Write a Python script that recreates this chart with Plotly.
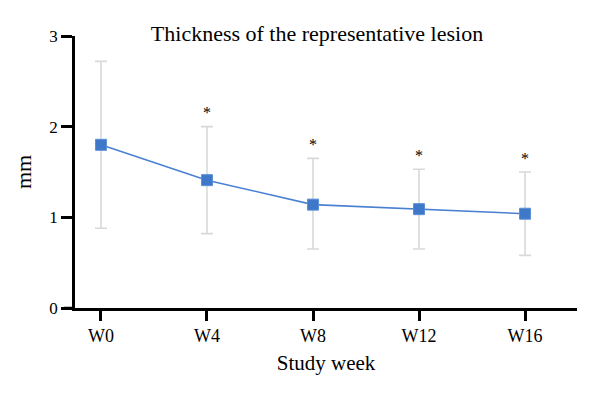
import plotly.graph_objects as go

weeks = ["W0", "W4", "W8", "W12", "W16"]
mean_mm = [1.80, 1.41, 1.14, 1.09, 1.04]
upper_mm = [2.72, 2.00, 1.65, 1.53, 1.50]
lower_mm = [0.88, 0.82, 0.65, 0.65, 0.58]
significance = ["", "*", "*", "*", "*"]

xpos = list(range(len(weeks)))
err_plus = [u - m for u, m in zip(upper_mm, mean_mm)]
err_minus = [m - l for m, l in zip(mean_mm, lower_mm)]

FONT = "Liberation Serif"

fig = go.Figure()
fig.add_trace(go.Scatter(
    x=xpos, y=mean_mm, mode="lines+markers",
    line=dict(color="#4a80d2", width=1.6),
    marker=dict(symbol="square", size=11, color="#3f78c8",
                line=dict(color="#5b8fd8", width=1)),
    error_y=dict(type="data", symmetric=False, array=err_plus, arrayminus=err_minus,
                 color="#d9d9d9", thickness=1.6, width=6),
    showlegend=False,
))

for xi, up, s in zip(xpos, upper_mm, significance):
    if s:
        fig.add_annotation(x=xi, y=up, text=s, showarrow=False, yshift=14,
                           font=dict(family=FONT, size=16, color="black"))

# extension of the x-axis line to the left of the y-axis
fig.add_shape(type="line", xref="paper", yref="y", x0=-0.022, x1=0, y0=0, y1=0,
              line=dict(color="black", width=2.5))

fig.update_layout(
    width=592, height=391,
    margin=dict(l=67, r=23, t=28, b=91, autoexpand=False),
    paper_bgcolor="white", plot_bgcolor="white",
    font=dict(family=FONT, size=17, color="black"),
    title=dict(text="Thickness of the representative lesion", x=0.522, xanchor="center",
               y=0.935, yanchor="middle", font=dict(family=FONT, size=22, color="black")),
    xaxis=dict(
        range=[-0.245, 4.49], tickvals=xpos, ticktext=weeks,
        showline=True, linecolor="black", linewidth=2.5,
        ticks="outside", ticklen=10, tickwidth=2.5, tickcolor="black",
        showgrid=False, zeroline=False, automargin=False,
        title=dict(text="Study week", font=dict(family=FONT, size=21), standoff=10),
        tickfont=dict(family=FONT, size=18),
    ),
    yaxis=dict(
        range=[0, 3], tickvals=[0, 1, 2, 3],
        showline=True, linecolor="black", linewidth=2.5,
        ticks="outside", ticklen=11, tickwidth=2.5, tickcolor="black",
        showgrid=False, zeroline=False, automargin=False,
        title=dict(text="mm", font=dict(family=FONT, size=22), standoff=12),
        tickfont=dict(family=FONT, size=17),
    ),
)

fig.write_html("out.html")
